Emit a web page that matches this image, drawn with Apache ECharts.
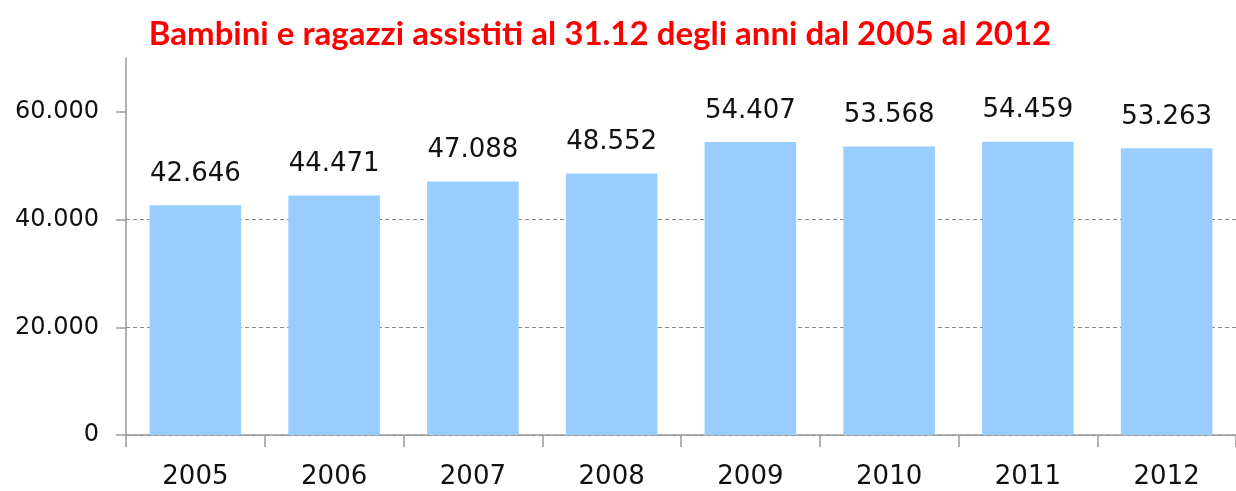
<!DOCTYPE html>
<html>
<head>
<meta charset="utf-8">
<script src="https://cdn.jsdelivr.net/npm/echarts@6/dist/echarts.min.js"></script>
<style>
  html, body { margin: 0; padding: 0; background: #fff; }
  #chart { width: 1236px; height: 491px; }
</style>
</head>
<body>
<div id="chart"></div>
<script>
// dati
const years = ['2005', '2006', '2007', '2008', '2009', '2010', '2011', '2012'];
const assistiti = [42646, 44471, 47088, 48552, 54407, 53568, 54459, 53263];
const yTicks = [0, 20000, 40000, 60000];

// separatore migliaia all'italiana
function formatIt(v) {
  return String(v).replace(/\B(?=(\d{3})+(?!\d))/g, '.');
}

const chart = echarts.init(document.getElementById('chart'));
const option = {
  animation: false,
  title: {
    text: 'Bambini e ragazzi assistiti al 31.12 degli anni dal 2005 al 2012',
    left: 595,
    textAlign: 'center',
    top: 13,
    textStyle: {
      color: '#ff0000',
      fontFamily: 'Lato',
      fontWeight: 'bold',
      fontSize: 33
    }
  },
  grid: {
    left: 126,
    right: -9,
    top: 58,
    bottom: 56
  },
  xAxis: {
    type: 'category',
    data: years,
    axisLine: { lineStyle: { color: '#999', width: 1.5 } },
    axisTick: { show: true, length: 12, lineStyle: { color: '#999', width: 1.5 } },
    axisLabel: {
      margin: 29,
      color: '#111',
      fontFamily: 'DejaVu Sans',
      fontSize: 26
    }
  },
  yAxis: {
    type: 'value',
    min: 0,
    max: 70000,
    interval: 20000,
    axisLine: { show: true, lineStyle: { color: '#999', width: 1.5 } },
    axisTick: { show: true, length: 10, customValues: yTicks, lineStyle: { color: '#999', width: 1.5 } },
    axisLabel: {
      customValues: yTicks,
      margin: 27,
      color: '#111',
      fontFamily: 'DejaVu Sans',
      fontSize: 24,
      formatter: v => formatIt(v)
    },
    splitLine: {
      show: true,
      showMaxLine: false,
      lineStyle: { color: '#888', type: [4, 3], width: 1 }
    }
  },
  series: [
    {
      type: 'bar',
      data: assistiti,
      barCategoryGap: '34%',
      itemStyle: { color: '#99ccff' },
      label: {
        show: true,
        position: 'top',
        distance: 18,
        color: '#111',
        fontFamily: 'DejaVu Sans',
        fontSize: 26,
        formatter: p => formatIt(p.value)
      }
    }
  ]
};
chart.setOption(option);
</script>
</body>
</html>
